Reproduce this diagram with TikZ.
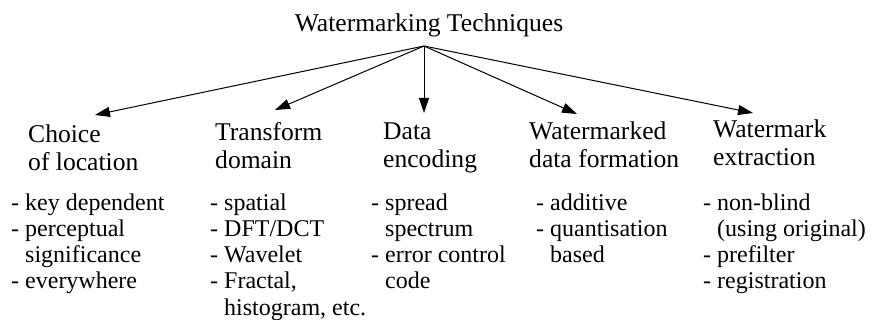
\documentclass[tikz,border=0pt]{standalone}
\usepackage{fontspec}
\setmainfont{Liberation Serif}
\usetikzlibrary{arrows.meta}
\begin{document}
\begin{tikzpicture}[x=1pt, y=-1pt,
  toptitle/.style={anchor=base, inner sep=0pt, font=\fontsize{25.6}{28}\selectfont},
  % multi-line nodes: the base anchor sits on the last line
  heading/.style={anchor=base west, inner sep=0pt, align=left, font=\fontsize{25.6}{28}\selectfont},
  items/.style={anchor=base west, inner sep=0pt, align=left, font=\fontsize{24}{26.3}\selectfont},
  branch/.style={-{Triangle[length=15pt, width=10pt]}, line width=1pt}]
\useasboundingbox (0,0) rectangle (874,320);

% root
\node[toptitle] (root) at (429,32) {Watermarking Techniques};
\coordinate (apex) at (424,46);

% category headings
\node[heading] (loc)  at (28,171)  {Choice\\of location};
\node[heading] (dom)  at (215,169) {Transform\\domain};
\node[heading] (enc)  at (383,168) {Data\\encoding};
\node[heading] (form) at (529,168) {Watermarked\\data formation};
\node[heading] (ext)  at (713,166) {Watermark\\extraction};

% arrow end points above each heading
\coordinate (tloc)  at (95,115);
\coordinate (tdom)  at (275,110);
\coordinate (tenc)  at (424,113);
\coordinate (tform) at (577,114);
\coordinate (text)  at (753,113);

\draw[branch] (apex) -- (tloc);
\draw[branch] (apex) -- (tdom);
\draw[branch] (apex) -- (tenc);
\draw[branch] (apex) -- (tform);
\draw[branch] (apex) -- (text);

% item lists (first line on y=210)
\node[items] (iloc) at (11,288.9) {- key dependent\\- perceptual\\\phantom{- }significance\\- everywhere};
\node[items] (idom) at (210,315.2) {- spatial\\- DFT/DCT\\- Wavelet\\- Fractal,\\\phantom{- }histogram, etc.};
\node[items] (ienc) at (371,288.9) {- spread\\\phantom{- }spectrum\\- error control\\\phantom{- }code};
\node[items] (iform) at (536,262.6) {- additive\\- quantisation\\\phantom{- }based};
\node[items] (iext) at (703,288.9) {- non-blind\\\phantom{- }(using original)\\- prefilter\\- registration};
\end{tikzpicture}
\end{document}
